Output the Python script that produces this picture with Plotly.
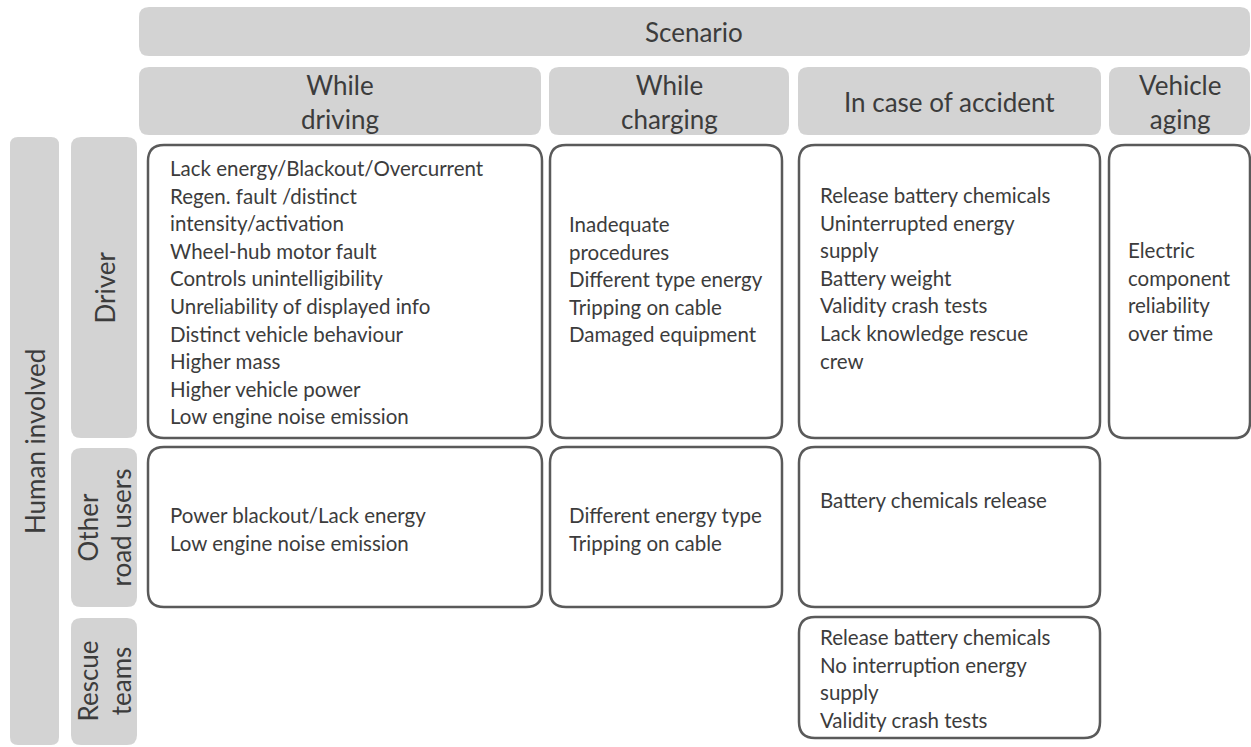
import plotly.graph_objects as go

# ---------------- data ----------------
top_header = "Scenario"
side_header = "Human involved"
scenarios = ["While<br>driving", "While<br>charging", "In case of accident", "Vehicle<br>aging"]
humans = ["Driver", "Other<br>road users", "Rescue<br>teams"]

driver_driving = ["Lack energy/Blackout/Overcurrent", "Regen. fault /distinct", "intensity/activation",
                  "Wheel-hub motor fault", "Controls unintelligibility", "Unreliability of displayed info",
                  "Distinct vehicle behaviour", "Higher mass", "Higher vehicle power",
                  "Low engine noise emission"]
driver_charging = ["Inadequate", "procedures", "Different type energy", "Tripping on cable",
                   "Damaged equipment"]
driver_accident = ["Release battery chemicals", "Uninterrupted energy", "supply", "Battery weight",
                   "Validity crash tests", "Lack knowledge rescue", "crew"]
driver_aging = ["Electric", "component", "reliability", "over time"]
other_driving = ["Power blackout/Lack energy", "Low engine noise emission"]
other_charging = ["Different energy type", "Tripping on cable"]
other_accident = ["Battery chemicals release"]
rescue_accident = ["Release battery chemicals", "No interruption energy", "supply", "Validity crash tests"]

# cells: (row index, column index, lines)
cells = [
    (0, 0, driver_driving), (0, 1, driver_charging), (0, 2, driver_accident), (0, 3, driver_aging),
    (1, 0, other_driving), (1, 1, other_charging), (1, 2, other_accident),
    (2, 2, rescue_accident),
]

# ---------------- layout geometry (pixels) ----------------
W, H = 1251, 747
col_x = [(139, 541), (549, 789), (798, 1101), (1109, 1250)]     # header column spans
box_x = [(148, 542), (550, 782), (799, 1100), (1109, 1250)]     # content box spans
row_y = [(137, 438), (448, 607), (618, 745)]                    # row header spans
box_y = [(145, 438), (447, 607), (617, 738)]                    # content box spans
text_x = [168, 567, 818, 1126]
first_line_y = {(0, 0): 168, (0, 1): 224, (0, 2): 195, (0, 3): 250,
                (1, 0): 515, (1, 1): 515, (1, 2): 500, (2, 2): 637}
line_h = 27.6

HEAD_FILL = "#d3d3d3"
BORDER = "#5a5a5a"
TXT = "#3c3c3c"
FONT = "Lato"
HEAD_SIZE = 26
BODY_SIZE = 20.5


def rrect(x0, y0, x1, y1, r):
    return (f"M {x0+r},{y0} L {x1-r},{y0} Q {x1},{y0} {x1},{y0+r} "
            f"L {x1},{y1-r} Q {x1},{y1} {x1-r},{y1} L {x0+r},{y1} "
            f"Q {x0},{y1} {x0},{y1-r} L {x0},{y0+r} Q {x0},{y0} {x0+r},{y0} Z")


shapes = []
annotations = []

# top header
shapes.append(dict(type="path", path=rrect(139, 7, 1250, 56, 10), fillcolor=HEAD_FILL,
                   line=dict(width=0), layer="below"))
annotations.append(dict(x=694, y=32, text=top_header, showarrow=False,
                        font=dict(size=HEAD_SIZE, color=TXT, family=FONT)))

# column headers
for (x0, x1), lab in zip(col_x, scenarios):
    shapes.append(dict(type="path", path=rrect(x0, 67, x1, 135, 10), fillcolor=HEAD_FILL,
                       line=dict(width=0), layer="below"))
    annotations.append(dict(x=(x0 + x1) / 2, y=102, text=lab, showarrow=False,
                            font=dict(size=HEAD_SIZE, color=TXT, family=FONT)))

# side header
shapes.append(dict(type="path", path=rrect(10, 137, 59, 745, 8), fillcolor=HEAD_FILL,
                   line=dict(width=0), layer="below"))
annotations.append(dict(x=35, y=442, text=side_header, showarrow=False, textangle=-90,
                        font=dict(size=HEAD_SIZE, color=TXT, family=FONT)))

# row headers
for (y0, y1), lab in zip(row_y, humans):
    shapes.append(dict(type="path", path=rrect(71, y0, 137, y1, 10), fillcolor=HEAD_FILL,
                       line=dict(width=0), layer="below"))
    annotations.append(dict(x=104, y=(y0 + y1) / 2, text=lab, showarrow=False, textangle=-90,
                            font=dict(size=HEAD_SIZE, color=TXT, family=FONT)))

# content cells
for r, c, lines in cells:
    x0, x1 = box_x[c]
    y0, y1 = box_y[r]
    shapes.append(dict(type="path", path=rrect(x0, y0, x1, y1, 16), fillcolor="white",
                       line=dict(color=BORDER, width=2.5)))
    y = first_line_y[(r, c)]
    for ln in lines:
        annotations.append(dict(x=text_x[c], y=y, text=ln, showarrow=False, xanchor="left",
                                yanchor="middle", font=dict(size=BODY_SIZE, color=TXT, family=FONT)))
        y += line_h

fig = go.Figure()
fig.add_trace(go.Scatter(x=[0, W], y=[0, H], mode="markers", marker=dict(opacity=0),
                         hoverinfo="skip", showlegend=False))
fig.update_layout(
    width=W, height=H, margin=dict(l=0, r=0, t=0, b=0),
    paper_bgcolor="white", plot_bgcolor="white",
    xaxis=dict(range=[0, W], visible=False, fixedrange=True),
    yaxis=dict(range=[H, 0], visible=False, fixedrange=True),
    shapes=shapes, annotations=annotations, showlegend=False,
)
fig.write_html("out.html", config={"displayModeBar": False},
               post_script="document.body.style.margin='0px';document.body.style.overflow='hidden';")
